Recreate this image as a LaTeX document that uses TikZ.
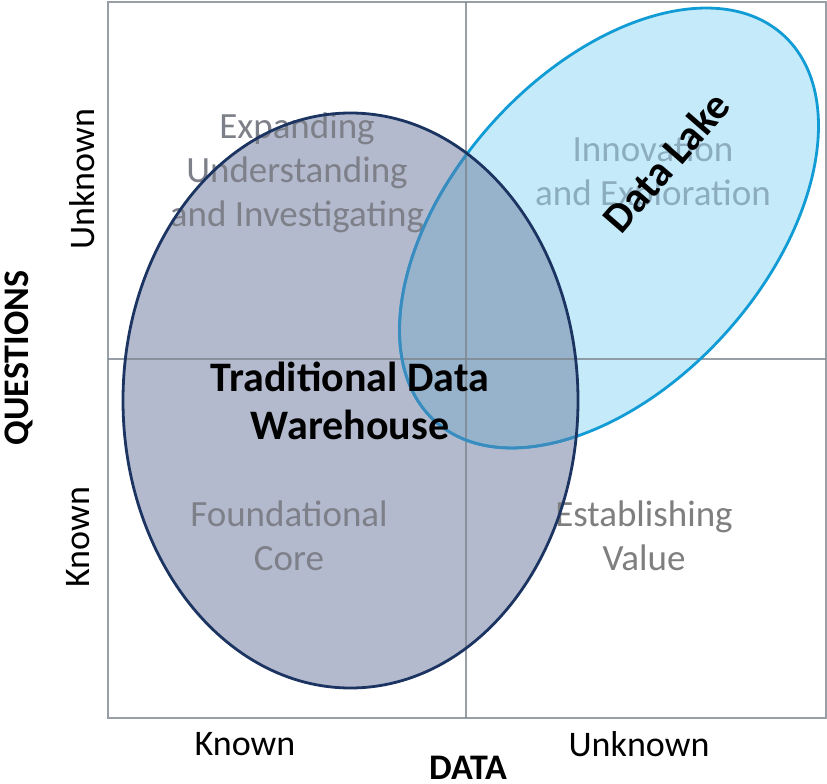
\documentclass[tikz,border=0pt]{standalone}
\usepackage{fontspec}
\setmainfont{Carlito}
\definecolor{dwfill}{HTML}{B4BACD}
\definecolor{dwline}{HTML}{1C3461}
\definecolor{lakefill}{HTML}{C5EAF9}
\definecolor{lakeline}{HTML}{119CD6}
\definecolor{lakelinein}{HTML}{3A8CBF}
\definecolor{ovfill}{HTML}{97B2CB}
\definecolor{gridcol}{HTML}{7F8890}
\definecolor{txtgray}{HTML}{7F7F7F}
\definecolor{txtdw}{HTML}{7E8089}
\definecolor{txtlake}{HTML}{8CADBE}
\tikzset{
  gridline/.style={draw=gridcol, line width=2pt, draw opacity=0.8},
  quad/.style={font=\fontsize{37}{44}\selectfont, align=center, inner sep=0pt},
  axislbl/.style={font=\fontsize{36}{40}\selectfont, text=black, inner sep=0pt},
  axistitle/.style={font=\bfseries\fontsize{36}{40}\selectfont, text=black, inner sep=0pt},
  bigbold/.style={font=\bfseries\fontsize{42}{48}\selectfont, text=black, align=center, inner sep=0pt}
}
\begin{document}
\begin{tikzpicture}[x=1pt,y=1pt]
\useasboundingbox (0,0) rectangle (827,-784);
\fill[white] (0,0) rectangle (827,-784);
% fills
\fill[lakefill, rotate around={48:(609,-228)}] (609,-228) ellipse [x radius=260, y radius=157];
\fill[dwfill] (350.5,-400.5) ellipse [x radius=227.5, y radius=287.5];
\begin{scope}
  \clip (350.5,-400.5) ellipse [x radius=227.5, y radius=287.5];
  \fill[ovfill, rotate around={48:(609,-228)}] (609,-228) ellipse [x radius=260, y radius=157];
\end{scope}
% grid
\draw[gridline] (108,-2) rectangle (826,-718);
\draw[gridline] (466,-2) -- (466,-718);
\draw[gridline] (108,-359) -- (826,-359);
% quadrant labels
\node[quad, text=txtdw] (q1) at (297,-173) {Expanding\\Understanding\\and Investigating};
\node[quad, text=txtlake] (q2) at (653,-174) {Innovation\\and Exploration};
\node[quad, text=txtdw] (q3) at (289,-536) {Foundational\\Core};
\node[quad, text=txtgray] (q4) at (644,-536) {Establishing\\Value};
% borders
\draw[lakeline, line width=2.8pt, rotate around={48:(609,-228)}] (609,-228) ellipse [x radius=260, y radius=157];
\begin{scope}
  \clip (350.5,-400.5) ellipse [x radius=227.5, y radius=287.5];
  \draw[lakelinein, line width=2.8pt, rotate around={48:(609,-228)}] (609,-228) ellipse [x radius=260, y radius=157];
\end{scope}
\draw[dwline, line width=2.8pt] (350.5,-400.5) ellipse [x radius=227.5, y radius=287.5];
% bold titles
\node[bigbold] (dw) at (350,-401) {Traditional Data\\Warehouse};
\node[bigbold, rotate=49] (lake) at (666,-162) {Data Lake};
% axes
\node[axistitle, rotate=90] (qs) at (19,-358) {QUESTIONS};
\node[axistitle] (data) at (468,-768) {DATA};
\node[axislbl, rotate=90] (qu) at (82,-179) {Unknown};
\node[axislbl, rotate=90] (qk) at (78,-537) {Known};
\node[axislbl] (dk) at (245,-744) {Known};
\node[axislbl] (du) at (639,-744) {Unknown};
\end{tikzpicture}
\end{document}
